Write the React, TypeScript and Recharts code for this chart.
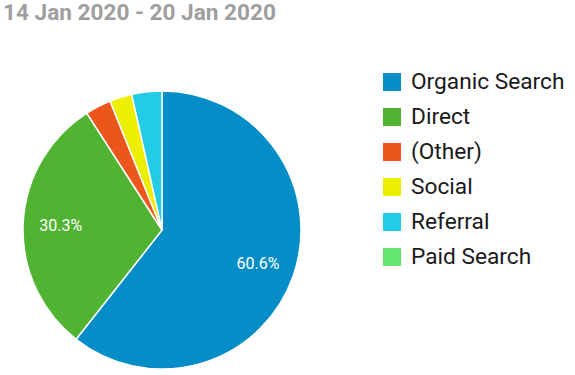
import { Cell, Legend, Pie, PieChart } from 'recharts'

const channels = ['Organic Search', 'Direct', '(Other)', 'Social', 'Referral', 'Paid Search']
const shares = [60.6, 30.3, 3.0, 2.6, 3.5, 0.0]
const colors = ['#058dc7', '#50b432', '#ed561b', '#edef00', '#24cbe5', '#64e572']

const data = channels.map((name, i) => ({ name, value: shares[i] }))

const RADIAN = Math.PI / 180

function renderLabel(props: any) {
  const { cx, cy, midAngle, outerRadius, percent } = props
  if (percent < 0.1) return null
  const r = outerRadius * 0.73
  const x = cx + r * Math.cos(-midAngle * RADIAN)
  const y = cy + r * Math.sin(-midAngle * RADIAN)
  return (
    <text x={x} y={y} fill="#ffffff" textAnchor="middle" dominantBaseline="central" fontSize={16} fontFamily="Roboto">
      {(percent * 100).toFixed(1)}%
    </text>
  )
}

function LegendList() {
  return (
    <div style={{ fontFamily: 'Roboto', fontSize: 22.7, color: '#1a1a1a' }}>
      {channels.map((name, i) => (
        <div key={name} style={{ display: 'flex', alignItems: 'center', height: 35 }}>
          <span style={{ width: 18, height: 18, background: colors[i], marginRight: 10, display: 'inline-block' }} />
          <span>{name}</span>
        </div>
      ))}
    </div>
  )
}

export default function App() {
  return (
    <div style={{ position: 'absolute', left: 0, top: 0, width: 575, height: 375, background: '#fff' }}>
      <div
        style={{
          position: 'absolute',
          left: 3,
          top: -1,
          fontFamily: 'Roboto',
          fontWeight: 700,
          fontSize: 22.6,
          color: '#9e9e9e',
        }}
      >
        14 Jan 2020 - 20 Jan 2020
      </div>
      <PieChart width={575} height={375} margin={{ top: 0, right: 0, bottom: 0, left: 0 }}>
        <Pie
          data={data}
          dataKey="value"
          nameKey="name"
          cx={162}
          cy={230}
          outerRadius={139}
          startAngle={90}
          endAngle={-270}
          stroke="#ffffff"
          strokeWidth={1.5}
          label={renderLabel}
          labelLine={false}
          isAnimationActive={false}
        >
          {data.map((d, i) => (
            <Cell key={d.name} fill={colors[i]} />
          ))}
        </Pie>
        <Legend
          layout="vertical"
          align="right"
          verticalAlign="top"
          wrapperStyle={{ left: 383, top: 64, width: 190 }}
          content={() => <LegendList />}
        />
      </PieChart>
    </div>
  )
}
